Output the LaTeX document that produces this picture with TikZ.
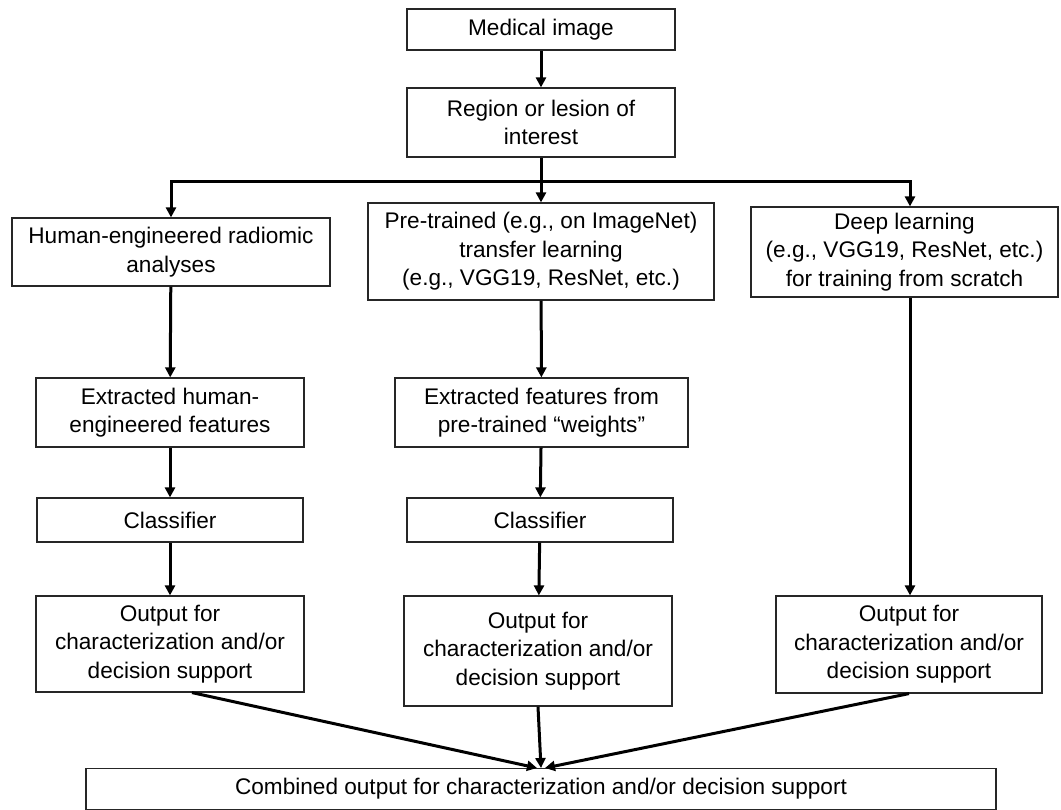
\documentclass[tikz,border=0pt]{standalone}
\usepackage{fontspec}
\setmainfont{Liberation Sans}
\usetikzlibrary{arrows.meta,calc}
\begin{document}
\begin{tikzpicture}[x=1pt,y=-1pt,
  box/.style={draw=black!85, line width=1.2pt, fill=white, align=center, inner sep=0pt,
    font=\fontsize{22.6}{28.5}\selectfont},
  thk/.style={line width=3pt, black},
  arr/.style={thk, -{Triangle[length=10pt,width=10pt]}}]
\useasboundingbox (0,0) rectangle (1061,810);
\fill[white] (0,0) rectangle (1061,810);
\node[box, minimum width=268, minimum height=41] (med) at (541,29.5) {Medical image};
\node[box, minimum width=268, minimum height=69] (roi) at (541,122.5) {Region or lesion of\\interest};
\node[box, minimum width=318, minimum height=68] (he) at (171,252) {Human-engineered radiomic\\analyses};
\node[box, minimum width=346, minimum height=97] (pt) at (541,251.5) {Pre-trained (e.g., on ImageNet)\\transfer learning\\(e.g., VGG19, ResNet, etc.)};
\node[box, minimum width=307, minimum height=90] (dl) at (904.5,252) {Deep learning\\(e.g., VGG19, ResNet, etc.)\\for training from scratch};
\node[box, minimum width=268, minimum height=69] (ehe) at (170,412.5) {Extracted human-\\engineered features};
\node[box, minimum width=293, minimum height=69] (ept) at (541.5,412.5) {Extracted features from\\pre-trained “weights”};
\node[box, minimum width=266, minimum height=44] (che) at (170,520) {Classifier};
\node[box, minimum width=266, minimum height=44] (cpt) at (540,520) {Classifier};
\node[box, minimum width=268, minimum height=96] (ohe) at (170,644) {Output for\\characterization and/or\\decision support};
\node[box, minimum width=268, minimum height=110] (opt) at (538,651) {Output for\\characterization and/or\\decision support};
\node[box, minimum width=266, minimum height=97] (odl) at (909,644.5) {Output for\\characterization and/or\\decision support};
\node[box, minimum width=910, minimum height=41] (comb) at (541,789) {Combined output for characterization and/or decision support};
\coordinate (hm) at (541,182);
\coordinate (hr) at (910,182);
\coordinate (tip) at (541,768);
\draw[arr] (med) -- (roi);
\draw[arr] (roi) -- (pt);
\draw[arr] (hm) -| (he.north);
\draw[arr] (hm) -- (hr) -- (hr |- dl.north);
\draw[arr] (he) -- (ehe);
\draw[arr] (ehe) -- (che);
\draw[arr] (che) -- (ohe);
\draw[arr] (pt) -- (ept);
\draw[arr] (ept) -- (cpt);
\draw[arr] (cpt) -- (opt);
\draw[arr] (hr |- dl.south) -- (hr |- odl.north);
\draw[arr] ([xshift=22pt]ohe.south) -- ([xshift=-4pt]tip);
\draw[arr] (opt.south) -- (tip);
\draw[arr] (odl.south) -- ([xshift=4pt]tip);
\end{tikzpicture}
\end{document}
